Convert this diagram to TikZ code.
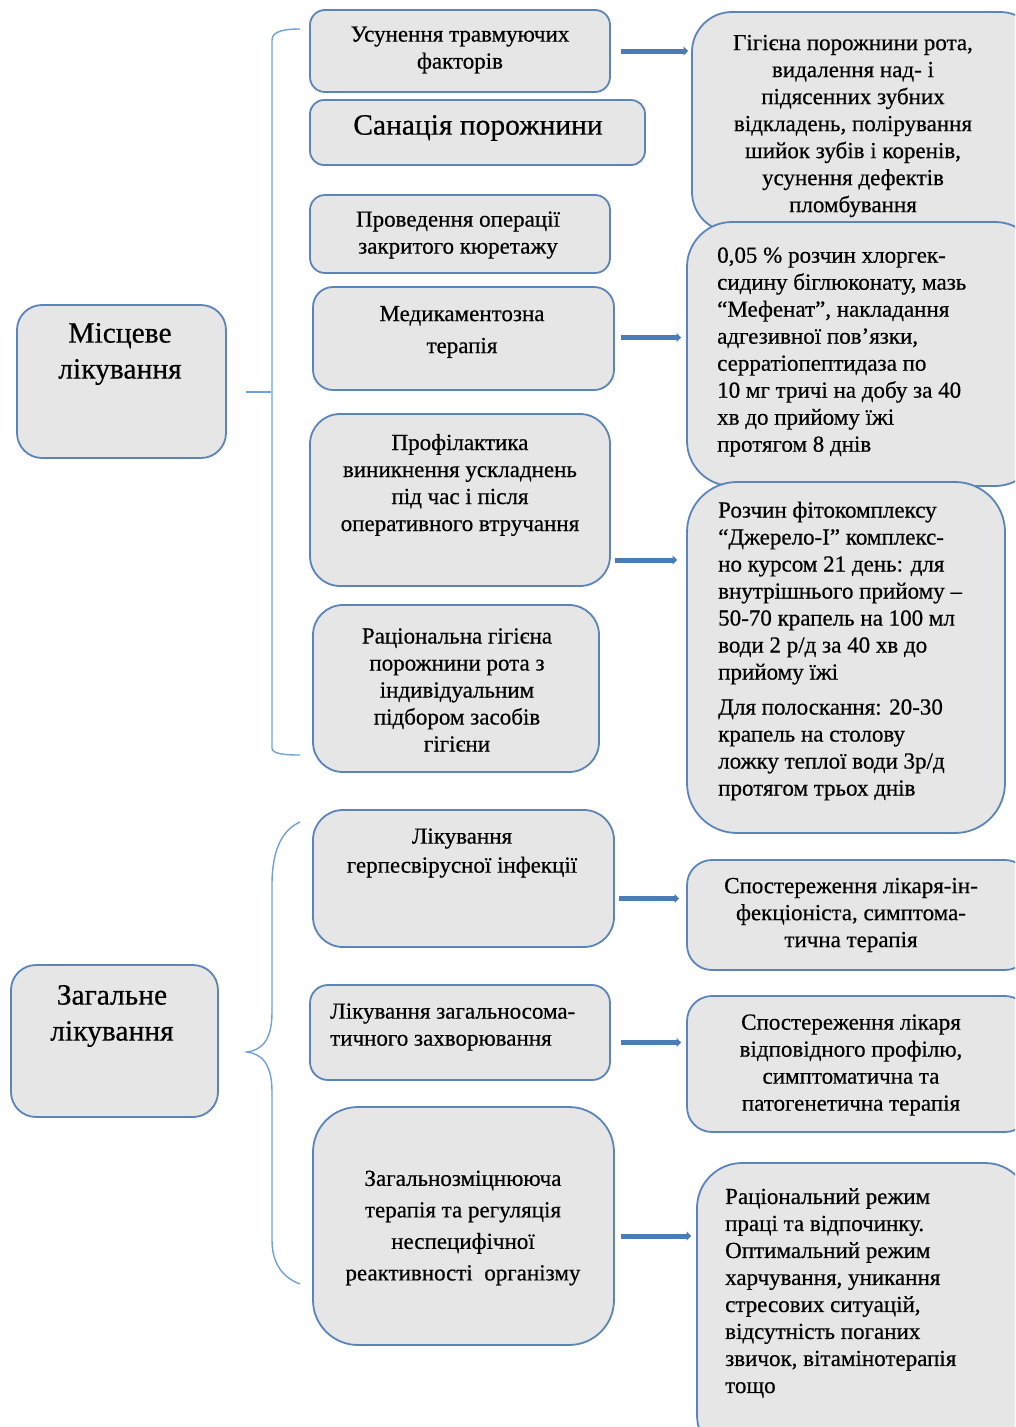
\documentclass[tikz,border=0pt]{standalone}
\usepackage{fontspec}
\setmainfont[FakeBold=0.5]{Liberation Serif}
\usetikzlibrary{arrows.meta,fit}
\definecolor{boxfill}{HTML}{E6E6E6}
\definecolor{boxline}{HTML}{5B84B8}
\definecolor{arrowc}{HTML}{4A7CB8}
\definecolor{brc}{HTML}{6FA0D8}
\begin{document}
\begin{tikzpicture}[x=1pt,y=-1pt,
 box/.style={draw=boxline, line width=1.8pt, fill=boxfill, inner sep=0pt},
 txt/.style={font=\fontsize{23}{27}\selectfont, align=center, inner sep=0pt},
 ltxt/.style={txt, align=left},
 big/.style={font=\fontsize{29.5}{36}\selectfont, align=center, inner sep=0pt},
 arr/.style={draw=arrowc, line width=5pt, -{Triangle[length=4.5pt,width=9pt]}},
 brace/.style={draw=brc, line width=1.4pt}]
\useasboundingbox (0,0) rectangle (1015,1427);
\clip (0,0) rectangle (1015,1427);

% left boxes
\node[box, rounded corners=25pt, fit={(17,305)(226,458)}] (L1) {};
\node[big] (L1t) at (120,354) {Місцеве\\лікування};
\node[box, rounded corners=25pt, fit={(11,965)(218,1117)}] (L2) {};
\node[big] (L2t) at (112,1016) {Загальне\\лікування};

% brackets
\draw[brace] (300,29) .. controls (285,29) and (272,31) .. (272,40) -- (272,748) .. controls (272,754) and (285,755) .. (300,755);
\draw[brace] (246,392) -- (271,392);
\draw[brace] (300,822) .. controls (282,830) and (272,850) .. (272,885) -- (272,1012) .. controls (272,1040) and (262,1050) .. (247,1052) .. controls (262,1054) and (272,1064) .. (272,1092) -- (272,1240) .. controls (272,1265) and (284,1278) .. (300,1284);

% middle column, local
\node[box, rounded corners=15pt, fit={(310,10)(610,92)}] (A1) {};
\node[txt] at (460,50) {Усунення травмуючих\\факторів};
\node[box, rounded corners=14pt, fit={(310,100)(645,165)}] (A2) {};
\node[big] at (478,128) {Санація порожнини};
\node[box, rounded corners=15pt, fit={(310,195)(610,273)}] (A3) {};
\node[txt] at (458,235) {Проведення операції\\закритого кюретажу};
\node[box, rounded corners=20pt, fit={(313,287)(614,390)}] (A4) {};
\node[txt, font=\fontsize{23}{32}\selectfont] at (462,332) {Медикаментозна\\терапія};
\node[box, rounded corners=30pt, fit={(310,414)(610,586)}] (A5) {};
\node[txt] at (460,485) {Профілактика\\виникнення ускладнень\\під час і після\\оперативного втручання};
\node[box, rounded corners=30pt, fit={(313,605)(599,772)}] (A6) {};
\node[txt] at (457,690) {Раціональна гігієна\\порожнини рота з\\індивідуальним\\підбором засобів\\гігієни};

% right column, local
\node[box, rounded corners=40pt, fit={(692,12)(1040,232)}] (R1) {};
\node[txt] at (853,126) {Гігієна порожнини рота,\\видалення над- і\\підясенних зубних\\відкладень, полірування\\шийок зубів і коренів,\\усунення дефектів\\пломбування};
\node[box, rounded corners=45pt, fit={(687,222)(1040,486)}] (R2) {};
\node[ltxt, anchor=west] at (717,352) {0,05 \% розчин хлоргек-\\сидину біглюконату, мазь\\“Мефенат”, накладання\\адгезивної пов’язки,\\серратіопептидаза по\\10 мг тричі на добу за 40\\хв до прийому їжі\\протягом 8 днів};
\node[box, rounded corners=50pt, fit={(687,482)(1005,833)}] (R3) {};
\node[ltxt, anchor=west] at (718,651) {Розчин фітокомплексу\\“Джерело-І” комплекс-\\но курсом 21 день: для\\внутрішнього прийому –\\50-70 крапель на 100 мл\\води 2 р/д за 40 хв до\\прийому їжі\\[8pt]Для полоскання:  20-30\\крапель на столову\\ложку теплої води 3р/д\\протягом трьох днів};

% middle column, general
\node[box, rounded corners=30pt, fit={(313,810)(614,947)}] (B1) {};
\node[txt, font=\fontsize{23}{29}\selectfont] at (462,853) {Лікування\\герпесвірусної інфекції};
\node[box, rounded corners=18pt, fit={(310,985)(610,1080)}] (B2) {};
\node[ltxt, anchor=west] at (330,1027) {Лікування загальносома-\\тичного захворювання};
\node[box, rounded corners=45pt, fit={(313,1107)(614,1345)}] (B3) {};
\node[txt, font=\fontsize{23}{31.5}\selectfont] at (463,1228) {Загальнозміцнююча\\терапія та регуляція\\неспецифічної\\реактивності~ організму};

% right column, general
\node[box, rounded corners=25pt, fit={(687,860)(1030,970)}] (R4) {};
\node[txt] at (851,915) {Спостереження лікаря-ін-\\фекціоніста, симптома-\\тична терапія};
\node[box, rounded corners=25pt, fit={(687,996)(1030,1132)}] (R5) {};
\node[txt] at (851,1065) {Спостереження лікаря\\відповідного профілю,\\симптоматична та\\патогенетична терапія};
\node[box, rounded corners=45pt, fit={(697,1163)(1030,1460)}] (R6) {};
\node[ltxt, anchor=west] at (725,1293) {Раціональний режим\\праці та відпочинку.\\Оптимальний режим\\харчування, уникання\\стресових ситуацій,\\відсутність поганих\\звичок, вітамінотерапія\\тощо};

% arrows
\draw[arr] ([xshift=10pt]A1.east) -- ([xshift=-3pt]A1.east -| R1.west);
\draw[arr] ([xshift=6pt,yshift=1pt]A4.east) -- ([xshift=-5pt,yshift=1pt]A4.east -| R2.west);
\draw[arr] ([xshift=4pt,yshift=-60pt]A5.east) -- ([xshift=-9pt,yshift=-60pt]A5.east -| R3.west);
\draw[arr] ([xshift=4pt,yshift=-20pt]B1.east) -- ([xshift=-7pt,yshift=-20pt]B1.east -| R4.west);
\draw[arr] ([xshift=10pt,yshift=-10pt]B2.east) -- ([xshift=-5pt,yshift=-10pt]B2.east -| R5.west);
\draw[arr] ([xshift=6pt,yshift=-10pt]B3.east) -- ([xshift=-5pt,yshift=-10pt]B3.east -| R6.west);
\end{tikzpicture}
\end{document}
